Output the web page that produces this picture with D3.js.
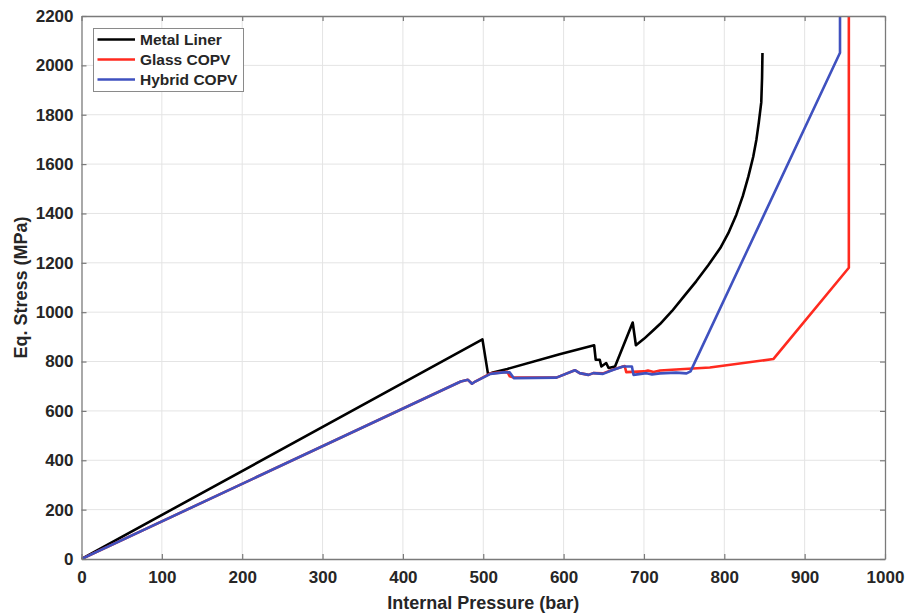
<!DOCTYPE html>
<html>
<head>
<meta charset="utf-8">
<script src="https://cdn.jsdelivr.net/npm/d3@7"></script>
<style>
  html, body { margin: 0; padding: 0; background: #ffffff; }
  svg { display: block; }
  text { font-family: Arial, "Liberation Sans", Helvetica, sans-serif; font-weight: bold; fill: #262626; }
</style>
</head>
<body>
<svg id="chart" width="909" height="614"></svg>
<script>
// Internal pressure (bar) and equivalent stress (MPa) for each vessel type
const metalPressure = [0, 499, 506, 512, 530, 595, 638, 640, 645, 647, 653, 656, 664, 686, 690, 700, 712, 720, 735, 750, 765, 780, 795, 805, 815, 823, 830, 836, 840, 843, 846, 847, 847.5];
const metalStress   = [0, 890, 748, 756, 770, 830, 866, 807, 807, 780, 794, 774, 780, 958, 866, 892, 928, 952, 1005, 1065, 1125, 1190, 1260, 1320, 1395, 1470, 1550, 1630, 1700, 1770, 1850, 1950, 2050];

const glassPressure = [0, 472, 481, 486, 490, 509, 530, 533, 538, 591, 614, 620, 631, 637, 649, 662, 676, 678, 700, 705, 712, 720, 740, 782, 861, 955, 955];
const glassStress   = [0, 719, 726, 710, 719, 752, 758, 740, 735, 735, 765, 753, 746, 753, 752, 768, 782, 757, 760, 764, 758, 764, 768, 776, 810, 1180, 2200];

const hybridPressure = [0, 472, 481, 486, 490, 509, 525, 533, 538, 591, 614, 620, 631, 637, 649, 662, 674, 685, 687, 703, 710, 720, 740, 753, 758, 944, 944];
const hybridStress   = [0, 719, 726, 710, 719, 750, 756, 756, 733, 735, 765, 753, 746, 753, 750, 767, 780, 780, 746, 753, 748, 752, 755, 752, 760, 2051, 2200];

const xTicks = [0, 100, 200, 300, 400, 500, 600, 700, 800, 900, 1000];
const yTicks = [0, 200, 400, 600, 800, 1000, 1200, 1400, 1600, 1800, 2000, 2200];

const seriesNames  = ["Metal Liner", "Glass COPV", "Hybrid COPV"];
const seriesColors = ["#000000", "#ff2a1f", "#3f51bf"];

const svg = d3.select("#chart");
const margin = { left: 81.5, right: 885, top: 16, bottom: 559 };

const x = d3.scaleLinear().domain([0, 1000]).range([margin.left, margin.right]);
const y = d3.scaleLinear().domain([0, 2200]).range([margin.bottom, margin.top]);

const plotW = margin.right - margin.left;
const plotH = margin.bottom - margin.top;

// grid
const grid = svg.append("g");
grid.selectAll("line.gx").data(xTicks.slice(1, -1)).join("line")
  .attr("x1", d => x(d)).attr("x2", d => x(d))
  .attr("y1", margin.top).attr("y2", margin.bottom)
  .attr("stroke", "#e4e4e4").attr("stroke-width", 1);
grid.selectAll("line.gy").data(yTicks.slice(1, -1)).join("line")
  .attr("x1", margin.left).attr("x2", margin.right)
  .attr("y1", d => y(d)).attr("y2", d => y(d))
  .attr("stroke", "#e4e4e4").attr("stroke-width", 1);

// series
svg.append("clipPath").attr("id", "plotclip")
  .append("rect").attr("x", margin.left).attr("y", margin.top).attr("width", plotW).attr("height", plotH);

const line = d3.line().x(d => x(d[0])).y(d => y(d[1]));
const series = [
  d3.zip(metalPressure, metalStress),
  d3.zip(glassPressure, glassStress),
  d3.zip(hybridPressure, hybridStress)
];
const lines = svg.append("g").attr("clip-path", "url(#plotclip)");
series.forEach((pts, i) => {
  lines.append("path")
    .datum(pts)
    .attr("d", line)
    .attr("fill", "none")
    .attr("stroke", seriesColors[i])
    .attr("stroke-width", 2.6)
    .attr("stroke-linejoin", "round");
});

// axes box with inward ticks on all four sides
const axisColor = "#7a7a7a";
const tickLen = 5;
const fmt = d3.format("d");
const bottomAxis = d3.axisBottom(x).tickValues(xTicks).tickFormat(fmt).tickSizeInner(-tickLen).tickSizeOuter(0).tickPadding(12);
const leftAxis = d3.axisLeft(y).tickValues(yTicks).tickFormat(fmt).tickSizeInner(-tickLen).tickSizeOuter(0).tickPadding(8);
const topAxis = d3.axisTop(x).tickValues(xTicks).tickSizeInner(-tickLen).tickSizeOuter(0).tickFormat("");
const rightAxis = d3.axisRight(y).tickValues(yTicks).tickSizeInner(-tickLen).tickSizeOuter(0).tickFormat("");

function styleAxis(g) {
  g.select(".domain").attr("stroke", axisColor).attr("stroke-width", 1.3);
  g.selectAll(".tick line").attr("stroke", axisColor).attr("stroke-width", 1.2);
  g.selectAll(".tick text").attr("fill", "#262626").style("font-size", "17px").style("font-weight", "bold");
}
svg.append("g").attr("transform", `translate(0,${margin.bottom})`).call(bottomAxis).call(styleAxis);
svg.append("g").attr("transform", `translate(${margin.left},0)`).call(leftAxis).call(styleAxis);
svg.append("g").attr("transform", `translate(0,${margin.top})`).call(topAxis).call(styleAxis);
svg.append("g").attr("transform", `translate(${margin.right},0)`).call(rightAxis).call(styleAxis);

// axis titles
svg.append("text")
  .attr("x", (margin.left + margin.right) / 2)
  .attr("y", 609)
  .attr("text-anchor", "middle")
  .style("font-size", "18px")
  .text("Internal Pressure (bar)");

svg.append("text")
  .attr("transform", `translate(27,${(margin.top + margin.bottom) / 2}) rotate(-90)`)
  .attr("text-anchor", "middle")
  .style("font-size", "18px")
  .text("Eq. Stress (MPa)");

// legend
const legend = svg.append("g");
legend.append("rect")
  .attr("x", 93.5).attr("y", 28.5).attr("width", 150).attr("height", 63)
  .attr("fill", "#ffffff").attr("stroke", "#8a8a8a").attr("stroke-width", 1);
seriesNames.forEach((name, i) => {
  const cy = 39.5 + i * 20;
  legend.append("line")
    .attr("x1", 97.5).attr("x2", 135).attr("y1", cy).attr("y2", cy)
    .attr("stroke", seriesColors[i]).attr("stroke-width", 2.6);
  legend.append("text")
    .attr("x", 140).attr("y", cy + 5.5)
    .style("font-size", "15.5px")
    .text(name);
});
</script>
</body>
</html>
